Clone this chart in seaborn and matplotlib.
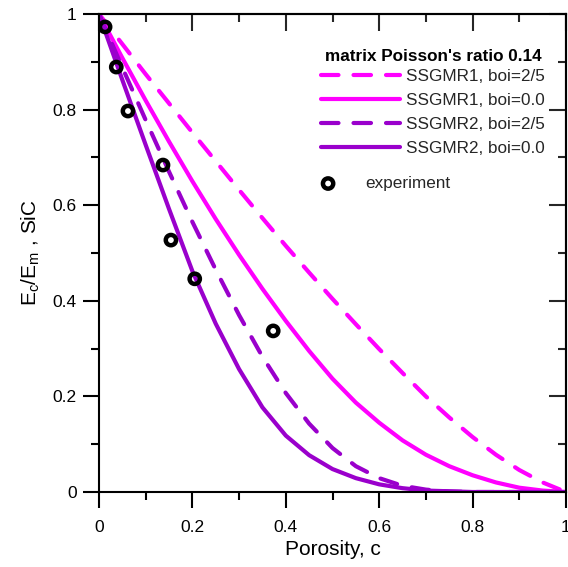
import matplotlib
matplotlib.use("Agg")
import matplotlib.pyplot as plt
import pandas as pd
import seaborn as sns
from matplotlib.ticker import MultipleLocator, FuncFormatter

# ---- data ----
por_s1_25 = [0, 0.05, 0.1, 0.15, 0.2, 0.25, 0.3, 0.35, 0.4, 0.45, 0.5, 0.55, 0.6, 0.65,
             0.7, 0.75, 0.8, 0.85, 0.9, 0.95, 1.0]
ec_s1_25 = [1.0, 0.937, 0.874, 0.813, 0.752, 0.692, 0.632, 0.573, 0.515, 0.459, 0.404, 0.351,
            0.299, 0.249, 0.200, 0.156, 0.115, 0.078, 0.046, 0.020, 0.0]

por_s1_0 = [0, 0.05, 0.1, 0.15, 0.2, 0.25, 0.3, 0.35, 0.4, 0.45, 0.5, 0.55, 0.6, 0.65,
            0.7, 0.75, 0.8, 0.85, 0.9, 0.95, 1.0]
ec_s1_0 = [1.0, 0.908, 0.819, 0.733, 0.650, 0.571, 0.496, 0.425, 0.358, 0.295, 0.237, 0.187,
           0.145, 0.108, 0.078, 0.054, 0.035, 0.020, 0.009, 0.003, 0.0]

por_s2_25 = [0, 0.05, 0.1, 0.15, 0.2, 0.25, 0.3, 0.35, 0.4, 0.45, 0.5, 0.55, 0.6, 0.65,
             0.7, 0.75, 0.8, 0.9, 1.0]
ec_s2_25 = [1.0, 0.888, 0.778, 0.670, 0.565, 0.465, 0.370, 0.283, 0.207, 0.143, 0.092, 0.054,
            0.029, 0.013, 0.005, 0.001, 0.0, 0.0, 0.0]

por_s2_0 = [0, 0.05, 0.1, 0.15, 0.2, 0.25, 0.3, 0.35, 0.4, 0.45, 0.5, 0.55, 0.6, 0.65,
            0.7, 0.8, 0.9, 1.0]
ec_s2_0 = [1.0, 0.862, 0.726, 0.592, 0.462, 0.352, 0.257, 0.177, 0.118, 0.077, 0.048, 0.029,
           0.016, 0.008, 0.003, 0.0, 0.0, 0.0]

exp_por = [0.013, 0.037, 0.062, 0.137, 0.154, 0.205, 0.373]
exp_ec = [0.973, 0.889, 0.797, 0.684, 0.527, 0.446, 0.337]

series_labels = ["SSGMR1, boi=2/5", "SSGMR1, boi=0.0", "SSGMR2, boi=2/5", "SSGMR2, boi=0.0"]
legend_title = "matrix Poisson's ratio 0.14"
exp_label = "experiment"
x_label = "Porosity, c"
y_label = r"E$\mathregular{_c}$/E$\mathregular{_m}$ , SiC"

# ---- style ----
sns.set_theme(style="ticks")
plt.rcParams['font.family'] = ['Liberation Sans', 'DejaVu Sans']
plt.rcParams['mathtext.fontset'] = 'custom'
plt.rcParams['mathtext.rm'] = 'Liberation Sans'
plt.rcParams['mathtext.it'] = 'Liberation Sans:italic'

MAG = "#FF00FF"
PUR = "#9A00CC"
LW = 3.0
DASH = (0, (4.2, 3.6))

fig = plt.figure(figsize=(5.68, 5.67), dpi=100)
ax = fig.add_axes([99 / 568, 75 / 567, 467 / 568, 478 / 567])

series = [
    (por_s1_25, ec_s1_25, MAG, DASH),
    (por_s1_0, ec_s1_0, MAG, "-"),
    (por_s2_25, ec_s2_25, PUR, DASH),
    (por_s2_0, ec_s2_0, PUR, "-"),
]
for (xs, ys, col, ls), lab in zip(series, series_labels):
    df = pd.DataFrame({"c": xs, "E": ys})
    sns.lineplot(data=df, x="c", y="E", ax=ax, color=col, linewidth=LW,
                 linestyle=ls, label=lab, sort=False, estimator=None)
    ln = ax.lines[-1]
    ln.set_dash_capstyle("round")
    ln.set_solid_capstyle("round")
    ln.set_solid_joinstyle("round")

dfe = pd.DataFrame({"c": exp_por, "E": exp_ec})
sns.scatterplot(data=dfe, x="c", y="E", ax=ax, marker="o", s=55,
                facecolors="none", edgecolor="black", linewidth=3.2,
                label=exp_label, zorder=5)
ax.collections[-1].set_facecolor("none")

ax.set_xlim(0, 1)
ax.set_ylim(0, 1)
ax.xaxis.set_major_locator(MultipleLocator(0.2))
ax.xaxis.set_minor_locator(MultipleLocator(0.1))
ax.yaxis.set_major_locator(MultipleLocator(0.2))
ax.yaxis.set_minor_locator(MultipleLocator(0.1))
ax.xaxis.set_major_formatter(FuncFormatter(lambda v, p: f"{v:g}"))
ax.yaxis.set_major_formatter(FuncFormatter(lambda v, p: f"{v:g}"))

ax.tick_params(which="both", direction="out", width=1.5, colors="black",
               top=False, right=False, labelsize=12.5)
ax.tick_params(which="major", length=11.5)
ax.tick_params(which="minor", length=6)
ax.tick_params(axis="x", which="major", pad=8.8)
ax.tick_params(axis="y", which="major", pad=4.5)
for sp in ax.spines.values():
    sp.set_visible(True)
    sp.set_linewidth(1.5)
    sp.set_color("black")

# inward ticks on top and right
sx = ax.secondary_xaxis("top")
sx.xaxis.set_major_locator(MultipleLocator(0.2))
sx.xaxis.set_minor_locator(MultipleLocator(0.1))
sx.tick_params(which="both", direction="in", width=1.5, labeltop=False)
sx.tick_params(which="major", length=12)
sx.tick_params(which="minor", length=6)
sx.spines["top"].set_linewidth(1.5)
sy = ax.secondary_yaxis("right")
sy.yaxis.set_major_locator(MultipleLocator(0.2))
sy.yaxis.set_minor_locator(MultipleLocator(0.1))
sy.tick_params(which="both", direction="in", width=1.5, labelright=False)
sy.tick_params(which="major", length=12)
sy.tick_params(which="minor", length=6)
sy.spines["right"].set_linewidth(1.5)

ax.set_xlabel(x_label, fontsize=15, labelpad=3.5, color="black")
ax.set_ylabel(y_label, fontsize=15, labelpad=8, color="black")

# legend title as a bold text above the entries
fig.text(433 / 568, 1 - 57 / 567, legend_title, ha="center", va="center",
         fontsize=12.3, fontweight="bold", color="black")

handles, labels = ax.get_legend_handles_labels()
leg1 = ax.legend(handles[:4], labels[:4], loc="upper left",
                 bbox_to_anchor=(321 / 568, 1 - 69 / 567), bbox_transform=fig.transFigure,
                 frameon=False, fontsize=12.3,
                 handlelength=4.6, handletextpad=0.35, labelspacing=0.53,
                 borderpad=0, borderaxespad=0)
ax.add_artist(leg1)
leg2 = ax.legend(handles[4:], labels[4:], loc="upper left",
                 bbox_to_anchor=(311 / 568, 1 - 176 / 567), bbox_transform=fig.transFigure,
                 frameon=False, fontsize=12.3, handlelength=2.0, handletextpad=1.17,
                 borderpad=0, borderaxespad=0)

fig.savefig("out.png", dpi=100)
